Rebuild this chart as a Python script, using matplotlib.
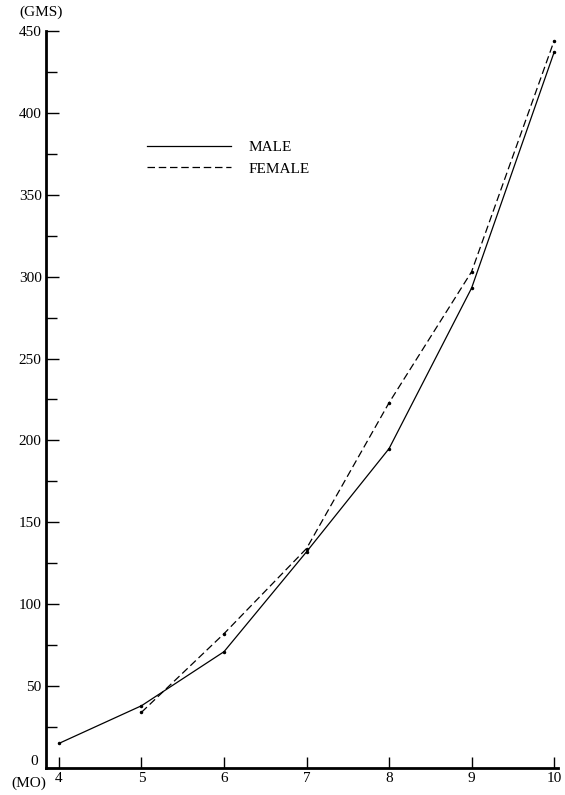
import numpy as np
import matplotlib.pyplot as plt
from matplotlib.lines import Line2D

plt.rcParams['font.family'] = ['Liberation Serif', 'DejaVu Serif']

# ----- Data (weight in grams by month) -----
months_male = [4, 5, 6, 7, 8, 9, 10]
weight_male = [15, 38, 71, 132, 195, 293, 437]
months_female = [5, 6, 7, 8, 9, 10]
weight_female = [34, 82, 134, 223, 303, 444]

y_major = list(range(0, 451, 50))
y_minor = list(range(25, 451, 50))
x_ticks = [4, 5, 6, 7, 8, 9, 10]

fig = plt.figure(figsize=(5.65, 7.95), dpi=100)
ax = fig.add_axes([0.081, 0.034, 0.907, 0.927])

ax.plot(months_male, weight_male, color="black", lw=0.9,
        marker=".", markersize=3)
ax.plot(months_female, weight_female, color="black", lw=0.9, ls=(0, (6, 3)),
        marker=".", markersize=3)

ax.set_xlim(3.84, 10.05)
ax.set_ylim(0, 450)

ax.set_xticks(x_ticks)
ax.set_yticks(y_major)
ax.set_yticks(y_minor, minor=True)
ax.set_yticklabels(["" if v == 0 else str(v) for v in y_major])

ax.tick_params(axis="both", which="both", direction="in", width=1.0, labelsize=11)
ax.tick_params(axis="y", which="major", length=9, pad=3)
ax.tick_params(axis="y", which="minor", length=8)
ax.tick_params(axis="x", length=8, pad=3)

for s in ["top", "right"]:
    ax.spines[s].set_visible(False)
ax.spines["left"].set_linewidth(2)
ax.spines["bottom"].set_linewidth(2)

# axis unit labels
ax.text(-0.01, 1.016, "(GMS)", transform=ax.transAxes, ha="center", va="bottom",
        fontsize=11)
ax.text(-0.015, 0.0, "0", transform=ax.transAxes, ha="right", va="bottom",
        fontsize=11)
ax.text(0.0, -0.012, "(MO)", transform=ax.transAxes, ha="right", va="top",
        fontsize=11)

handles = [Line2D([], [], color="black", lw=0.9),
           Line2D([], [], color="black", lw=0.9, ls=(0, (6, 3)))]
ax.legend(handles, ["MALE", "FEMALE"], loc="upper left",
          bbox_to_anchor=(0.17, 0.87), frameon=False,
          handlelength=5.5, fontsize=11, labelspacing=0.5, handletextpad=1.2)

plt.savefig("out.png", dpi=100)
